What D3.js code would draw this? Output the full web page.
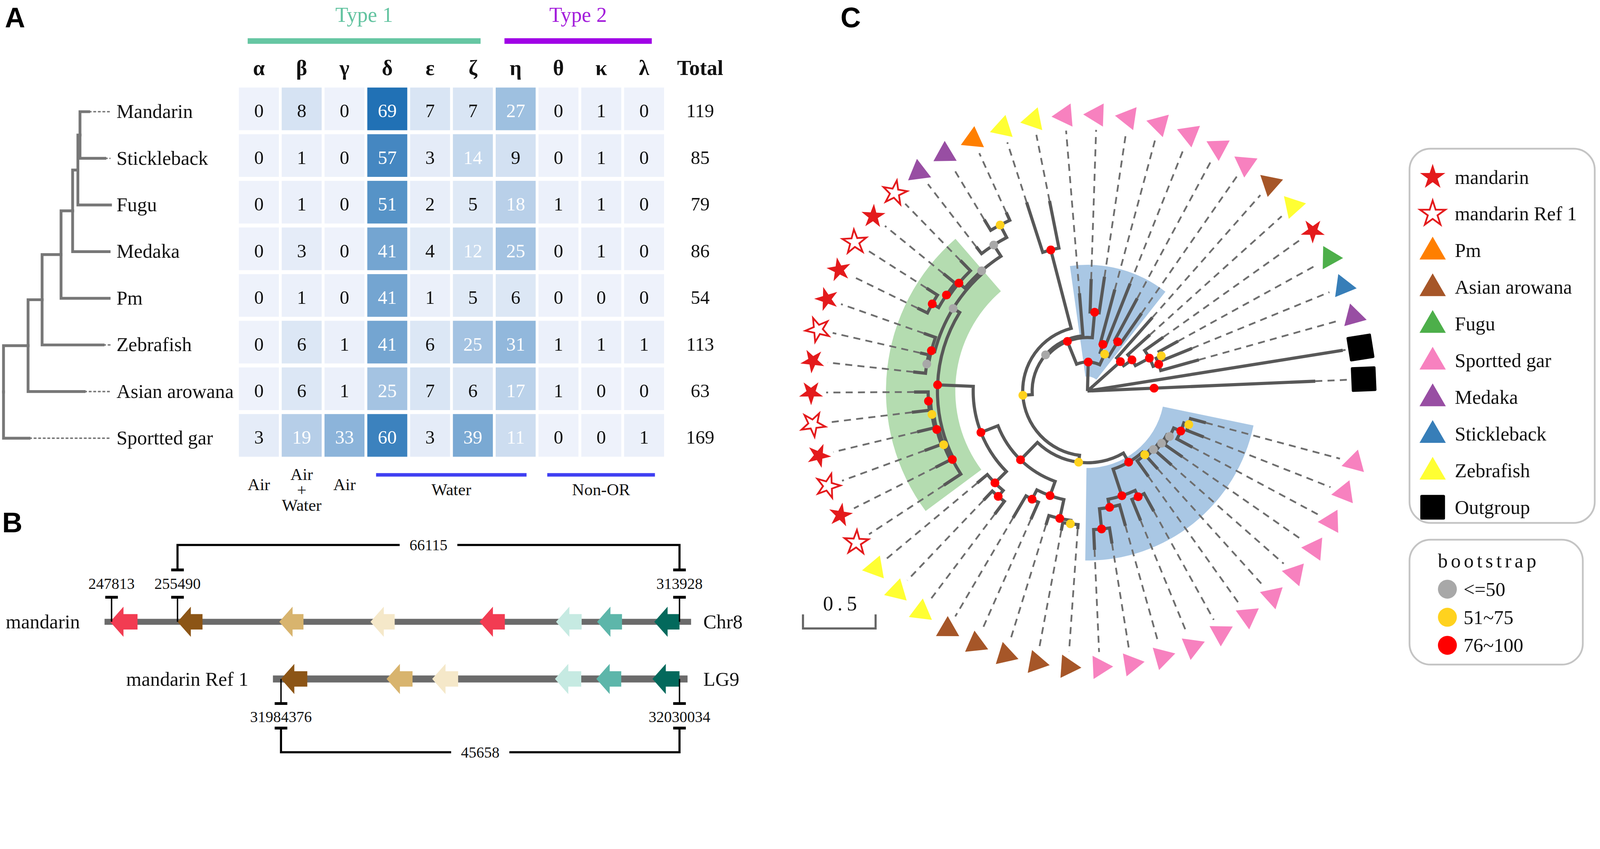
<!DOCTYPE html>
<html>
<head>
<meta charset="utf-8">
<script src="https://cdn.jsdelivr.net/npm/d3@7"></script>
<style>
  html, body { margin: 0; padding: 0; background: #fff; overflow: hidden; }
  svg { display: block; width: 100vw; height: calc(100vw * 2174 / 4561); }
  text { font-family: "Liberation Serif", "Times New Roman", serif; fill: #111; }
  .panel { font-family: "Liberation Sans", Arial, sans-serif; font-weight: bold; font-size: 80px; fill: #000; }
</style>
</head>
<body>
<svg viewBox="0 0 4561 2174" preserveAspectRatio="xMidYMid meet"></svg>
<script>
// ---------- A: OR family counts ----------
const species = ["Mandarin", "Stickleback", "Fugu", "Medaka", "Pm", "Zebrafish", "Asian arowana", "Sportted gar"];
const families = ["α", "β", "γ", "δ", "ε", "ζ", "η", "θ", "κ", "λ"];
const counts = [
  [0, 8, 0, 69, 7, 7, 27, 0, 1, 0],
  [0, 1, 0, 57, 3, 14, 9, 0, 1, 0],
  [0, 1, 0, 51, 2, 5, 18, 1, 1, 0],
  [0, 3, 0, 41, 4, 12, 25, 0, 1, 0],
  [0, 1, 0, 41, 1, 5, 6, 0, 0, 0],
  [0, 6, 1, 41, 6, 25, 31, 1, 1, 1],
  [0, 6, 1, 25, 7, 6, 17, 1, 0, 0],
  [3, 19, 33, 60, 3, 39, 11, 0, 0, 1]
];
const totals = [119, 85, 79, 86, 54, 113, 63, 169];
const typeGroups = [{label: "Type 1", from: "α", to: "ζ"}, {label: "Type 2", from: "η", to: "λ"}];
const habitatSpans = [{label: "Water", from: "δ", to: "η"}, {label: "Non-OR", from: "θ", to: "λ"}];
const habitatSingles = [{col: "α", lines: ["Air"]}, {col: "β", lines: ["Air", "+", "Water"]}, {col: "γ", lines: ["Air"]}];
const speciesNewick = "(((((((Mandarin:0.25,Stickleback:0.71):0.06,Fugu:0.93):0.15,Medaka:1.04):0.33,Pm:1.37):0.54,Zebrafish:1.74):0.40,Asian arowana:1.60):0.70,Sportted gar:0.73);";

// ---------- B: gene clusters ----------
const mandarinGenes = [
  {s: 247650, e: 250835, fam: "a"}, {s: 255490, e: 258400, fam: "b"}, {s: 267335, e: 270153, fam: "c"},
  {s: 277954, e: 280772, fam: "d"}, {s: 290655, e: 293595, fam: "a"}, {s: 299557, e: 302538, fam: "e"},
  {s: 304335, e: 307235, fam: "f"}, {s: 310992, e: 313928, fam: "g"}
];
const refGenes = [
  {s: 31984376, e: 31987390, fam: "b"}, {s: 31996473, e: 31999447, fam: "c"}, {s: 32001698, e: 32004672, fam: "d"},
  {s: 32015765, e: 32018779, fam: "e"}, {s: 32020507, e: 32023360, fam: "f"}, {s: 32026937, e: 32030034, fam: "g"}
];
const loci = [
  {name: "mandarin", chrom: "Chr8", start: 246996, end: 315276, genes: mandarinGenes,
   ticks: [247813, 255490, 313928], span: [255490, 313928], spanLabel: "66115"},
  {name: "mandarin Ref 1", chrom: "LG9", start: 31983452, end: 32030956, genes: refGenes,
   ticks: [31984376, 32030034], span: [31984376, 32030034], spanLabel: "45658"}
];

// ---------- C: beta OR tree (bootstrap as node labels) ----------
const blueLower = "((((((gar1:0.109,gar2:0.126)70:0.036,gar3:0.121)88:0.053,gar4:0.150)45:0.022,gar5:0.147)35:0.017,gar6:0.116)40:0.017,gar7:0.133)65:0.024," +
  "((gar8:0.138,gar9:0.157)95:0.048,(gar10:0.150,(gar11:0.109,gar12:0.140)99:0.140)90:0.056)92:0.193";
const arowanaClade = "(((aro1:0.031,aro2:0.056)68:0.024,aro3:0.068)90:0.133,(aro4:0.128,aro5:0.176)94:0.072)96:0.104";
const zebraClade = "((zeb1:0.111,zeb2:0.087)92:0.053,zeb3:0.092)97:0.111";
const mandarinLow = "(ref1:0.140,(man1:0.114,(ref2:0.123,(man2:0.123,(ref3:0.121,man3:0.097)95:0.014)64:0.012)92:0.014)66:0.014)90:0.010";
const mandarinMid = "((man4:0.085,ref4:0.060)38:0.012,man5:0.085)90:0.024";
const mandarinTop = "(((man6:0.077,ref5:0.089)95:0.051,man7:0.104)93:0.019,ref6:0.099)92:0.053";
const medakaPm = "(med1:0.060,(med2:0.087,pm1:0.060)65:0.097)40:0.092";
const mandarinClade = `(${mandarinLow},(${mandarinMid},(${mandarinTop},${medakaPm})45:0.017)40:0.053)95:0.246`;
const leftClade = `((((${blueLower})97:0.072,(${arowanaClade},(${zebraClade},${mandarinClade})91:0.126)93:0.167)60:0.048,(zeb4:0.362,zeb5:0.331)92:0.558)63:0.065,gar13:0.295)42:0.012`;
const blueUpper = `((${leftClade},(gar14:0.227,gar15:0.251)93:0.176)90:0.169,((gar16:0.386,gar17:0.459)91:0.058,(gar18:0.326,gar19:0.254)90:0.118)62:0.080)96:0.200`;
const singleCopy = "(aro6:0.372,(zeb6:0.205,(man8:0.157,((fug1:0.150,stk1:0.215)66:0.039,med3:0.273)91:0.041)92:0.109)94:0.070)90:0.304";
const orNewick = `(${blueUpper},${singleCopy},out1:1.780,(out2:1.111)95:0.459);`;

const cladeHighlights = [
  {first: "gar1", last: "gar12", group: "blue"},
  {first: "ref1", last: "ref6", group: "green"},
  {first: "gar13", last: "gar19", group: "blue"}
];
const legendSpecies = [
  ["man", "mandarin"], ["ref", "mandarin Ref 1"], ["pm", "Pm"], ["aro", "Asian arowana"], ["fug", "Fugu"],
  ["gar", "Sportted gar"], ["med", "Medaka"], ["stk", "Stickleback"], ["zeb", "Zebrafish"], ["out", "Outgroup"]
];
const bootstrapBins = [51, 76];
const bootstrapLabels = ["<=50", "51~75", "76~100"];

// ---------- helpers ----------
function parseNewick(s) {
  const ancestors = [];
  let tree = {};
  const tokens = s.split(/\s*(;|\(|\)|,|:)\s*/);
  tokens.forEach((token, i) => {
    if (token === "(") { const sub = {}; tree.children = [sub]; ancestors.push(tree); tree = sub; }
    else if (token === ",") { const sub = {}; ancestors[ancestors.length - 1].children.push(sub); tree = sub; }
    else if (token === ")") { tree = ancestors.pop(); }
    else if (token !== ":" && token !== ";" && token !== "") {
      if (tokens[i - 1] === ":") tree.length = parseFloat(token);
      else tree.name = token;
    }
  });
  return tree;
}

const svg = d3.select("svg");

svg.append("text").attr("class", "panel").attr("x", 14).attr("y", 78).text("A");
svg.append("text").attr("class", "panel").attr("x", 6).attr("y", 1518).text("B");
svg.append("text").attr("class", "panel").attr("x", 2396).attr("y", 78).text("C");

// ================= Panel A =================
const col = d3.scaleBand().domain(families).range([677, 1897]).paddingInner(0.066).paddingOuter(0.033);
const row = d3.scaleBand().domain(species).range([244, 1308]).paddingInner(0.085).paddingOuter(0.0425);
const heat = d3.scaleLinear().domain([0, d3.max(counts.flat())]).range(["#eef2fb", "#2171b5"]);

const gA = svg.append("g");

const cells = counts.flatMap((vals, i) => vals.map((v, j) => ({sp: species[i], fam: families[j], v})));
gA.selectAll("rect.cell").data(cells).join("rect")
  .attr("class", "cell")
  .attr("x", d => col(d.fam)).attr("y", d => row(d.sp))
  .attr("width", col.bandwidth()).attr("height", row.bandwidth())
  .attr("fill", d => heat(d.v));

gA.selectAll("text.val").data(cells).join("text")
  .attr("class", "val")
  .attr("x", d => col(d.fam) + col.bandwidth() / 2)
  .attr("y", d => row(d.sp) + row.bandwidth() / 2 + 24)
  .attr("text-anchor", "middle").attr("font-size", 54)
  .style("fill", d => d.v >= 10 ? "#fff" : "#111")
  .text(d => d.v);

gA.selectAll("text.fam").data(families).join("text")
  .attr("class", "fam")
  .attr("x", d => col(d) + col.bandwidth() / 2).attr("y", 214)
  .attr("text-anchor", "middle").attr("font-size", 60).attr("font-weight", "bold")
  .text(d => d);
gA.append("text").attr("x", 1996).attr("y", 214).attr("text-anchor", "middle")
  .attr("font-size", 60).attr("font-weight", "bold").text("Total");

gA.selectAll("text.tot").data(totals).join("text")
  .attr("class", "tot")
  .attr("x", 1996).attr("y", (d, i) => row(species[i]) + row.bandwidth() / 2 + 24)
  .attr("text-anchor", "middle").attr("font-size", 54)
  .text(d => d);

gA.selectAll("text.sp").data(species).join("text")
  .attr("class", "sp")
  .attr("x", 332).attr("y", d => row(d) + row.bandwidth() / 2 + 26)
  .attr("font-size", 56)
  .text(d => d);

// type bars
const typeColor = {"Type 1": "#66c6a3", "Type 2": "#a000e6"};
const typeText = {"Type 1": "#62c3a0", "Type 2": "#a31ddb"};
typeGroups.forEach(t => {
  const x0 = col(t.from) + 25, x1 = col(t.to) + col.bandwidth() - 35;
  gA.append("rect").attr("x", x0).attr("y", 109).attr("width", x1 - x0).attr("height", 16).attr("fill", typeColor[t.label]);
  gA.append("text").attr("x", (x0 + x1) / 2).attr("y", 62).attr("text-anchor", "middle")
    .attr("font-size", 60).style("fill", typeText[t.label]).text(t.label);
});

// habitat labels
habitatSpans.forEach(h => {
  const x0 = col(h.from) + 25, x1 = col(h.to) + col.bandwidth() - 26;
  gA.append("rect").attr("x", x0).attr("y", 1349).attr("width", x1 - x0).attr("height", 10).attr("fill", "#3f3ff2");
  gA.append("text").attr("x", (x0 + x1) / 2).attr("y", 1412).attr("text-anchor", "middle").attr("font-size", 48).text(h.label);
});
habitatSingles.forEach(h => {
  const x = col(h.col) + col.bandwidth() / 2;
  const t = gA.append("text").attr("x", x).attr("y", h.lines.length === 1 ? 1397 : 1369)
    .attr("text-anchor", "middle").attr("font-size", 48);
  h.lines.forEach((line, i) => t.append("tspan").attr("x", x).attr("dy", i ? 44 : 0).text(line));
});

// species tree
const treeA = d3.hierarchy(parseNewick(speciesNewick));
treeA.each(d => { d.len = d.parent ? d.parent.len + d.data.length : 0; });
treeA.eachAfter(d => {
  d.py = d.children ? d3.mean(d.children, c => c.py) : row(d.data.name) + row.bandwidth() / 2 + 8;
});
const xA = d3.scaleLinear().domain([0, d3.max(treeA.leaves(), d => d.len)]).range([10, 315]);

gA.selectAll("path.branchA").data(treeA.descendants().filter(d => d.parent)).join("path")
  .attr("class", "branchA")
  .attr("d", d => `M${xA(d.parent.len)},${d.parent.py}V${d.py}H${xA(d.len)}`)
  .attr("fill", "none").attr("stroke", "#777").attr("stroke-width", 8).attr("stroke-linecap", "square");
gA.selectAll("line.extA").data(treeA.leaves().filter(d => xA(d.len) < xA.range()[1] - 2)).join("line")
  .attr("class", "extA")
  .attr("x1", d => xA(d.len)).attr("x2", xA.range()[1])
  .attr("y1", d => d.py).attr("y2", d => d.py)
  .attr("stroke", "#777").attr("stroke-width", 4).attr("stroke-dasharray", "8 5");

// ================= Panel B =================
const geneColor = {a: "#f23c52", b: "#8c5516", c: "#d8b46e", d: "#f5e8c9", e: "#c6eae2", f: "#5db6aa", g: "#03695c"};
const rowLayout = [{y: 1773, x0: 318, x1: 1937, dir: -1, bar: 17}, {y: 1936, x0: 801, x1: 1937, dir: 1, bar: 20}];
const gB = svg.append("g");
const arrowLine = d3.line();

loci.forEach((loc, k) => {
  const L = rowLayout[k];
  const xs = d3.scaleLinear().domain([loc.ticks[0], loc.ticks[loc.ticks.length - 1]]).range([L.x0, L.x1]);
  const y = L.y, dir = L.dir;

  gB.append("rect").attr("x", xs(loc.start)).attr("y", y - L.bar / 2)
    .attr("width", xs(loc.end) - xs(loc.start)).attr("height", L.bar).attr("fill", "#6b6b6b");

  gB.selectAll(null).data(loc.genes).join("path")
    .attr("d", g => {
      const x0 = xs(g.s), x1 = xs(g.e), h = Math.min(38, (x1 - x0) * 0.55);
      return arrowLine([[x0, y], [x0 + h, y - 43], [x0 + h, y - 22], [x1, y - 22], [x1, y + 22], [x0 + h, y + 22], [x0 + h, y + 43]]) + "Z";
    })
    .attr("fill", g => geneColor[g.fam]);

  gB.append("text").attr("x", xs(loc.start) - 70).attr("y", y + 19).attr("text-anchor", "end")
    .attr("font-size", 56).text(loc.name);
  gB.append("text").attr("x", 2005).attr("y", y + 19).attr("font-size", 56).text(loc.chrom);

  // coordinate ticks
  loc.ticks.forEach(t => {
    const x = xs(t);
    gB.append("line").attr("x1", x).attr("x2", x).attr("y1", y).attr("y2", y + dir * 70)
      .attr("stroke", "#000").attr("stroke-width", 4);
    gB.append("line").attr("x1", x - 18).attr("x2", x + 18).attr("y1", y + dir * 70).attr("y2", y + dir * 70)
      .attr("stroke", "#000").attr("stroke-width", 8);
    gB.append("text").attr("x", x).attr("y", dir < 0 ? y - 94 : y + 123)
      .attr("text-anchor", "middle").attr("font-size", 44).text(t);
  });

  // span bracket
  const sx0 = xs(loc.span[0]), sx1 = xs(loc.span[1]);
  const capY = dir < 0 ? y - 148 : y + 140, lineY = dir < 0 ? y - 219 : y + 209;
  gB.append("path").attr("d", `M${sx0},${capY}V${lineY}H${sx1}V${capY}`)
    .attr("fill", "none").attr("stroke", "#000").attr("stroke-width", 6);
  [sx0, sx1].forEach(x => gB.append("line").attr("x1", x - 18).attr("x2", x + 18).attr("y1", capY).attr("y2", capY)
    .attr("stroke", "#000").attr("stroke-width", 8));
  const lab = gB.append("text").attr("x", (sx0 + sx1) / 2).attr("y", lineY + 15)
    .attr("text-anchor", "middle").attr("font-size", 44).text(loc.spanLabel);
  const bb = lab.node().getBBox();
  gB.insert("rect", () => lab.node()).attr("x", bb.x - 28).attr("y", bb.y).attr("width", bb.width + 56)
    .attr("height", bb.height).attr("fill", "#fff");
});

// ================= Panel C =================
const cx = 3100, cy = 1115;
const tipStep = 6.587, firstTipAngle = 105;
const tipRing = 788, dashEnd = 745;
const rC = d3.scaleLinear().domain([0, 1]).range([0, 414]);
const rad = a => a * Math.PI / 180;
const pt = (a, r) => [r * Math.sin(rad(a)), -r * Math.cos(rad(a))];

const treeC = d3.hierarchy(parseNewick(orNewick));
const leavesC = treeC.leaves();
d3.cluster().size([tipStep * leavesC.length, 1]).separation(() => 1)(treeC);
treeC.each(d => {
  d.ang = d.x + firstTipAngle - tipStep / 2;
  d.r = d.parent ? d.parent.r + rC(d.data.length) : 0;
  if (!d.children) d.sp = d.data.name.replace(/\d+$/, "");
});

function linkStep(a0, r0, a1, r1) {
  const [x0, y0] = pt(a0, r0), [xa, ya] = pt(a1, r0), [x1, y1] = pt(a1, r1);
  let p = `M${x0},${y0}`;
  if (r0 > 0 && a0 !== a1) p += `A${r0},${r0} 0 ${Math.abs(a1 - a0) > 180 ? 1 : 0} ${a1 > a0 ? 1 : 0} ${xa},${ya}`;
  return p + `L${x1},${y1}`;
}

const gC = svg.append("g").attr("transform", `translate(${cx},${cy})`);

// clade highlights
const hiliteColor = {blue: "#a9c7e4", green: "#b4dcb0"};
const byName = new Map(leavesC.map(d => [d.data.name, d]));
cladeHighlights.forEach(h => {
  const a = byName.get(h.first), b = byName.get(h.last);
  const mrca = a.path(b).reduce((m, n) => n.depth < m.depth ? n : m);
  const inLeaves = leavesC.slice(leavesC.indexOf(a), leavesC.indexOf(b) + 1);
  gC.append("path")
    .attr("d", d3.arc()({
      innerRadius: (mrca.r + mrca.parent.r) / 2,
      outerRadius: d3.max(inLeaves, d => d.r) + 30,
      startAngle: rad(a.ang - tipStep / 2),
      endAngle: rad(b.ang + tipStep / 2)
    }))
    .attr("fill", hiliteColor[h.group]);
});

// dashed tip extensions
gC.selectAll("path.ext").data(leavesC.filter(d => d.r < dashEnd)).join("path")
  .attr("class", "ext")
  .attr("d", d => `M${pt(d.ang, d.r)}L${pt(d.ang, dashEnd)}`)
  .attr("stroke", "#6e6e6e").attr("stroke-width", 5).attr("stroke-dasharray", "20 15").attr("fill", "none");

// branches
gC.selectAll("path.link").data(treeC.links()).join("path")
  .attr("class", "link")
  .attr("d", l => linkStep(l.source.ang, l.source.r, l.target.ang, l.target.r))
  .attr("fill", "none").attr("stroke", "#585858").attr("stroke-width", 9);

// bootstrap dots
const bootColor = d3.scaleThreshold().domain(bootstrapBins).range(["#a8a8a8", "#ffd21e", "#ff0000"]);
gC.selectAll("circle.boot").data(treeC.descendants().filter(d => d.parent && d.children && d.data.name)).join("circle")
  .attr("class", "boot")
  .attr("transform", d => `translate(${pt(d.ang, d.r)})`)
  .attr("r", 12.5)
  .attr("fill", d => bootColor(+d.data.name));

// tip symbols
const spStyle = {
  man: {sym: d3.symbolStar, fill: "#e41a1c"},
  ref: {sym: d3.symbolStar, fill: "#fff", stroke: "#e41a1c"},
  pm: {sym: d3.symbolTriangle, fill: "#ff7f00"},
  aro: {sym: d3.symbolTriangle, fill: "#a65628"},
  fug: {sym: d3.symbolTriangle, fill: "#4daf4a"},
  gar: {sym: d3.symbolTriangle, fill: "#f781bf"},
  med: {sym: d3.symbolTriangle, fill: "#984ea3"},
  stk: {sym: d3.symbolTriangle, fill: "#377eb8"},
  zeb: {sym: d3.symbolTriangle, fill: "#ffff33"},
  out: {sym: d3.symbolSquare, fill: "#000", stroke: "#000"}
};
const symSize = (sym, big) => sym === d3.symbolStar ? (big ? 1620 : 1455) : sym === d3.symbolSquare ? 3900 : (big ? 2436 : 1900);
const drawSymbol = (sel, sp, big) => {
  const st = spStyle[sp];
  sel.attr("d", d3.symbol(st.sym, symSize(st.sym, big))())
    .attr("fill", st.fill)
    .attr("stroke", st.stroke || "none")
    .attr("stroke-width", st.sym === d3.symbolSquare ? 8 : 5)
    .attr("stroke-linejoin", st.sym === d3.symbolSquare ? "round" : "miter");
};
leavesC.forEach(d => {
  const p = gC.append("path").attr("transform", `translate(${pt(d.ang, tipRing)}) rotate(${d.ang - 90})`);
  drawSymbol(p, d.sp, false);
});

// scale bar
const sbX = 2289, sbY = 1792, sbLen = rC(0.5);
svg.append("path").attr("d", `M${sbX},${sbY - 40}V${sbY}H${sbX + sbLen}V${sbY - 40}`)
  .attr("fill", "none").attr("stroke", "#666").attr("stroke-width", 6);
svg.append("text").attr("x", sbX + sbLen / 2 + 8).attr("y", 1741).attr("text-anchor", "middle")
  .attr("font-size", 58).attr("letter-spacing", 12).text("0.5");

// species legend
const lg = svg.append("g");
lg.append("rect").attr("x", 4018).attr("y", 424).attr("width", 528).attr("height", 1067).attr("rx", 60)
  .attr("fill", "none").attr("stroke", "#c4c4c4").attr("stroke-width", 5);
legendSpecies.forEach(([sp, label], i) => {
  const y = 505 + i * 104.6;
  drawSymbol(lg.append("path").attr("transform", `translate(4084,${y + (spStyle[sp].sym === d3.symbolTriangle ? 4 : 0)})`), sp, true);
  lg.append("text").attr("x", 4147).attr("y", y + 19).attr("font-size", 56).text(label);
});

// bootstrap legend
lg.append("rect").attr("x", 4018).attr("y", 1539).attr("width", 494).attr("height", 356).attr("rx", 60)
  .attr("fill", "none").attr("stroke", "#c4c4c4").attr("stroke-width", 5);
lg.append("text").attr("x", 4099).attr("y", 1618).attr("font-size", 56).attr("letter-spacing", 9).text("bootstrap");
bootstrapLabels.forEach((label, i) => {
  const y = 1680 + i * 80;
  lg.append("circle").attr("cx", 4126).attr("cy", y).attr("r", 27)
    .attr("fill", bootColor([0, bootstrapBins[0], bootstrapBins[1]][i]));
  lg.append("text").attr("x", 4172).attr("y", y + 19).attr("font-size", 56).text(label);
});
</script>
</body>
</html>
